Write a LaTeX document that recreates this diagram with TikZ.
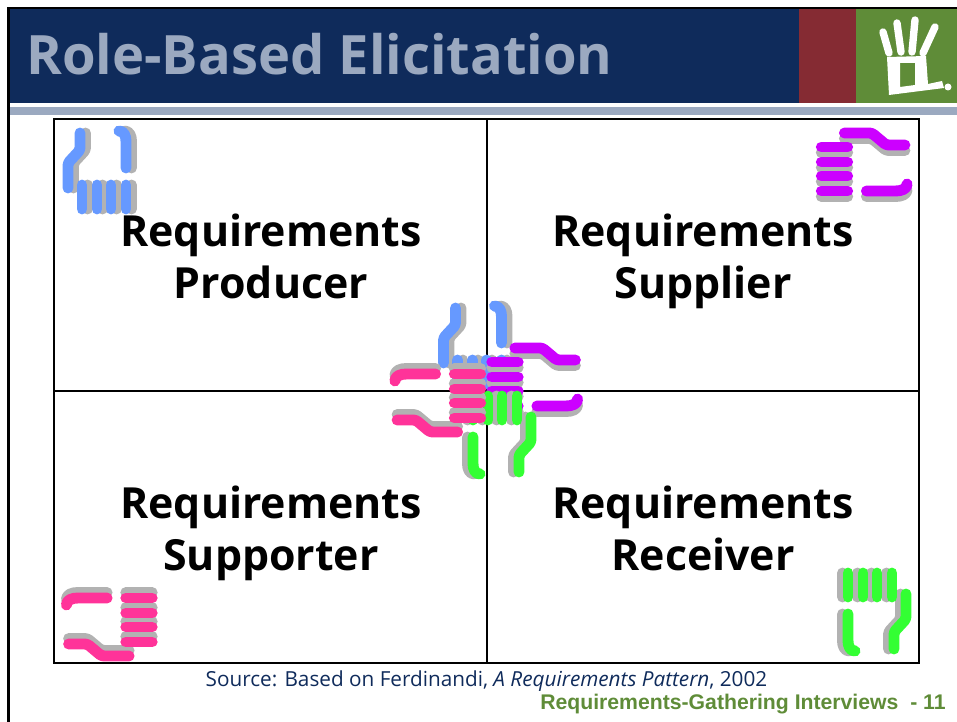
\documentclass[tikz,border=0pt]{standalone}
\usepackage{fontspec}
\setmainfont{Open Sans}
\newfontfamily\footfont{Liberation Sans}

\definecolor{navy}{HTML}{0F2B5B}
\definecolor{band}{HTML}{9BA9C0}
\definecolor{wine}{HTML}{852B33}
\definecolor{moss}{HTML}{5F8C38}
\definecolor{handblue}{HTML}{6699FF}
\definecolor{handpurple}{HTML}{CC00FF}
\definecolor{handgreen}{HTML}{33FF33}
\definecolor{handpink}{HTML}{FF3399}
\definecolor{handgrey}{HTML}{B2B2B2}

\tikzset{
	pen/.style={line width=6.2pt, line cap=round, line join=round, rounded corners=1.5pt},
	rolelabel/.style={font=\fontsize{24.4}{29.6}\selectfont\bfseries, align=center, anchor=south, inner sep=0, text depth=0pt},
	logopen/.style={white, line width=4.2pt, line cap=round}
}

% one hand, drawn upright and turned as a whole
\newcommand{\handlines}[2]{
	\draw [pen, #1] (-24,-64*#2) -- (-24,-47*#2) -- (-36,-34*#2) -- (-36,-9*#2);
	\draw [pen, #1] (15,-66*#2) .. controls (20,-66*#2) and (22,-61*#2) .. (22,-53*#2) -- (22,-29*#2);
	\draw [pen, #1] (-22,-12*#2) -- (-22,12*#2);
	\draw [pen, #1] (-7,-12*#2) -- (-7,12*#2);
	\draw [pen, #1] (7,-12*#2) -- (7,12*#2);
	\draw [pen, #1] (22,-12*#2) -- (22,12*#2);
}
\newcommand{\hand}[5]{
	\begin{scope}[shift={(#1,#2)}, rotate=#3]
		\begin{scope}[shift={(5.5,0)}]
			\handlines{handgrey}{#4}
		\end{scope}
		\handlines{#5}{#4}
	\end{scope}
}

\begin{document}
\begin{tikzpicture}[x=0.02cm, y=-0.02cm]
	\useasboundingbox (0,0) rectangle (957,722);

	% title bar
	\fill [navy] (9,9) rectangle (799,103);
	\fill [wine] (799,9) rectangle (856,103);
	\fill [moss] (856,9) rectangle (957,103);
	\fill [band] (9,107) rectangle (957,115);
	\draw [black, line width=1.6pt] (8.5,722) -- (8.5,8) -- (957,8);

	% logo
	\draw [logopen] (883,32) -- (889,53);
	\draw [logopen] (897,23) -- (901,52);
	\draw [logopen] (915,20) -- (912,52);
	\draw [logopen] (935,27) -- (923,53);
	\fill [white, even odd rule] (887,57) -- (926,56) -- (928,84) -- (942,81) -- (944,88) -- (889,95) -- cycle
		(900,63) -- (915,63) -- (915,85) -- (900,87) -- cycle;
	\fill [white] (948,87) circle [radius=3.5];

	\node (title) [anchor=base west, inner sep=0, text=band, font=\fontsize{30.9}{36}\selectfont\bfseries] at (26,75) {Role-Based Elicitation};

	% quadrants
	\draw [black, line width=0.8pt] (54,119) rectangle (919,663);
	\draw [black, line width=0.8pt] (487,119) -- (487,663);
	\draw [black, line width=0.8pt] (54,391) -- (919,391);

	\node (producer) [rolelabel] at (271,299) {Requirements\\Producer};
	\node (supplier) [rolelabel] at (703,299) {Requirements\\Supplier};
	\node (supporter) [rolelabel] at (271,571) {Requirements\\Supporter};
	\node (receiver) [rolelabel] at (703,571) {Requirements\\Receiver};

	% corner hands
	\hand{104}{197}{0}{1}{handblue}
	\hand{834.5}{169}{-90}{1.1}{handpurple}
	\hand{139}{620}{90}{1.1}{handpink}
	\hand{870}{585}{180}{1}{handgreen}

	% hands in the middle
	\hand{479.5}{372}{0}{1}{handblue}
	\hand{505}{384}{-90}{1.1}{handpurple}
	\hand{495}{408}{180}{1}{handgreen}
	\hand{467.5}{396}{90}{1.1}{handpink}

	\node (source) [anchor=base, inner sep=0, text=navy, font=\fontsize{11.8}{14}\selectfont] at (486.5,686) {Source: Based on Ferdinandi, \textit{A Requirements Pattern}, 2002};
	\node (footer) [anchor=base east, inner sep=0, text=moss, font=\footfont\fontsize{12.07}{14}\selectfont\bfseries] at (946,709) {Requirements-Gathering Interviews\ \ - 11};
\end{tikzpicture}
\end{document}
